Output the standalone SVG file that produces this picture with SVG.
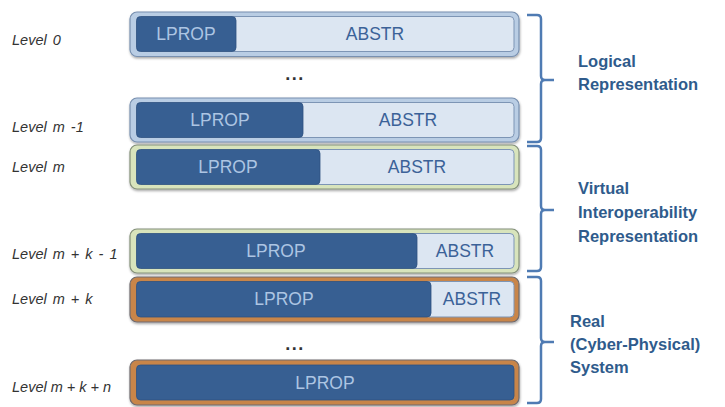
<svg xmlns="http://www.w3.org/2000/svg" width="725" height="407" viewBox="0 0 725 407">
<defs>
<filter id="sh" x="-5%" y="-20%" width="110%" height="150%">
<feDropShadow dx="0.5" dy="1.5" stdDeviation="1.2" flood-color="#000" flood-opacity="0.35"/>
</filter>
<style>
.bg{fill:#fff}
.ob{fill:#b9cde4;stroke:#7890b0;stroke-width:1.2}
.og{fill:#d8e4bc;stroke:#84907a;stroke-width:1.2}
.oo{fill:#c8854a;stroke:#6e6a6e;stroke-width:1.2}
.lp{fill:#375f92;stroke:#2f5280;stroke-width:0.8}
.ab{fill:#dce6f2;stroke:#7d95b5;stroke-width:1}
.tl{font-family:"Liberation Sans",Arial,sans-serif;font-size:17.5px;fill:#adc5e3;text-anchor:middle}
.ta{font-family:"Liberation Sans",Arial,sans-serif;font-size:17.5px;fill:#3b6298;text-anchor:middle}
.lv{font-family:"Liberation Sans",Arial,sans-serif;font-size:14.5px;font-style:italic;fill:#333;word-spacing:2px}
.rl{font-family:"Liberation Sans",Arial,sans-serif;font-size:16.5px;font-weight:bold;fill:#2f5b8c}
.dots{font-family:"Liberation Sans",Arial,sans-serif;font-size:18px;font-weight:bold;fill:#333;text-anchor:middle;letter-spacing:1.5px}
.br{fill:none;stroke:#4f7bb3;stroke-width:2.5;stroke-linejoin:round}
</style>
</defs>
<rect class="bg" width="725" height="407"/>

<g id="level0">
<rect class="ob" x="130" y="12" width="389" height="44.5" rx="7" filter="url(#sh)"/>
<rect class="ab" x="230" y="16.5" width="284" height="35" rx="4"/>
<rect class="lp" x="136.5" y="16.5" width="99.5" height="35" rx="4"/>
<text class="tl" x="186" y="40">LPROP</text>
<text class="ta" x="375" y="40">ABSTR</text>
<text class="lv" x="12" y="45">Level 0</text>
</g>

<text class="dots" x="295" y="80">...</text>

<g id="level_m-1">
<rect class="ob" x="130" y="98" width="389" height="44" rx="7" filter="url(#sh)"/>
<rect class="ab" x="297" y="102.5" width="217" height="35" rx="4"/>
<rect class="lp" x="136.5" y="102.5" width="166.5" height="35" rx="4"/>
<text class="tl" x="220" y="126">LPROP</text>
<text class="ta" x="408" y="126">ABSTR</text>
<text class="lv" x="12" y="132">Level m -1</text>
</g>

<g id="level_m">
<rect class="og" x="130" y="145" width="389" height="44" rx="7" filter="url(#sh)"/>
<rect class="ab" x="314" y="149.5" width="200" height="35" rx="4"/>
<rect class="lp" x="136.5" y="149.5" width="183.5" height="35" rx="4"/>
<text class="tl" x="228" y="173">LPROP</text>
<text class="ta" x="417" y="173">ABSTR</text>
<text class="lv" x="12" y="172">Level m</text>
</g>

<g id="level_m_k-1">
<rect class="og" x="130" y="229" width="389" height="44" rx="7" filter="url(#sh)"/>
<rect class="ab" x="411" y="233.5" width="103" height="35" rx="4"/>
<rect class="lp" x="136.5" y="233.5" width="280.5" height="35" rx="4"/>
<text class="tl" x="276" y="257">LPROP</text>
<text class="ta" x="465" y="257">ABSTR</text>
<text class="lv" x="12" y="259">Level m + k - 1</text>
</g>

<g id="level_m_k">
<rect class="oo" x="130" y="277" width="389" height="45" rx="7" filter="url(#sh)"/>
<rect class="ab" x="425" y="281.5" width="89" height="35.5" rx="4"/>
<rect class="lp" x="136.5" y="281.5" width="294.5" height="35.5" rx="4"/>
<text class="tl" x="284" y="305">LPROP</text>
<text class="ta" x="472" y="305">ABSTR</text>
<text class="lv" x="12" y="304">Level m + k</text>
</g>

<text class="dots" x="295" y="350">...</text>

<g id="level_m_k_n">
<rect class="oo" x="130" y="360" width="389" height="45" rx="7" filter="url(#sh)"/>
<rect class="lp" x="136.5" y="365" width="377.5" height="35" rx="4"/>
<text class="tl" x="325" y="389">LPROP</text>
<text class="lv" x="12" y="392" style="word-spacing:0">Level m + k + n</text>
</g>

<g id="connectors">
<path class="br" d="M527,15 L537,15 Q541,15 541,19 L541,76 Q541,80 545,80 L554,80 M545,80 Q541,80 541,84 L541,138 Q541,142 537,142 L527,142"/>
<path class="br" d="M527,146 L537,146 Q541,146 541,150 L541,206 Q541,210 545,210 L554,210 M545,210 Q541,210 541,214 L541,267 Q541,271 537,271 L527,271"/>
<path class="br" d="M527,277 L537,277 Q541,277 541,281 L541,338 Q541,342 545,342 L554,342 M545,342 Q541,342 541,346 L541,399 Q541,403 537,403 L527,403"/>
</g>

<g id="logical">
<text class="rl" x="578" y="67">Logical</text>
<text class="rl" x="578" y="90">Representation</text>
</g>
<g id="virtual">
<text class="rl" x="578" y="194">Virtual</text>
<text class="rl" x="578" y="218">Interoperability</text>
<text class="rl" x="578" y="242">Representation</text>
</g>
<g id="real">
<text class="rl" x="570" y="327">Real</text>
<text class="rl" x="570" y="350">(Cyber-Physical)</text>
<text class="rl" x="570" y="373">System</text>
</g>
</svg>
